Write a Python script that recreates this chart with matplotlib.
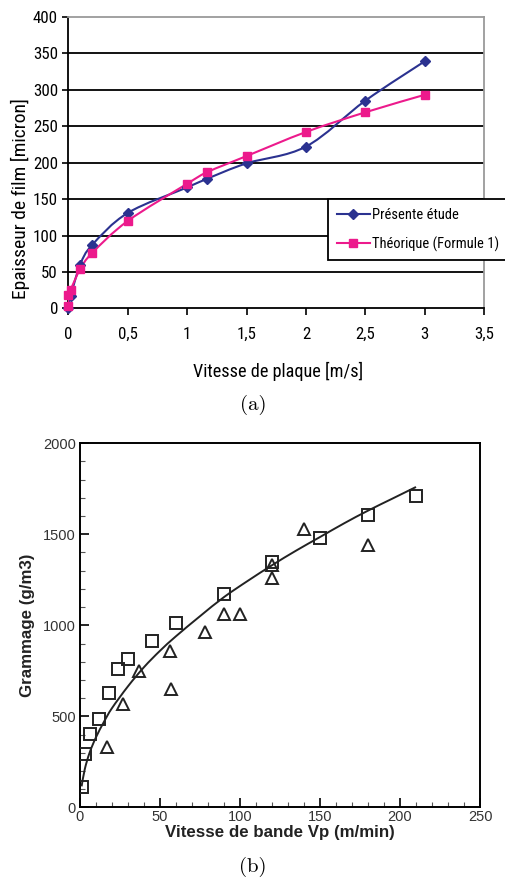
import numpy as np
import matplotlib
matplotlib.use("Agg")
import matplotlib.pyplot as plt
import matplotlib.font_manager as fm
from matplotlib.font_manager import FontProperties
from matplotlib.textpath import TextPath
from matplotlib.path import Path
from matplotlib.patches import PathPatch
from matplotlib.lines import Line2D
from matplotlib.ticker import MultipleLocator, FuncFormatter

# ---------------- data (a) ----------------
vitesse_etude = [0.0, 0.02, 0.1, 0.2, 0.5, 1.0, 1.17, 1.5, 2.0, 2.5, 3.0]
epaisseur_etude = [0, 17, 60, 87, 131, 166, 178, 199, 222, 285, 339]
vitesse_theo = [0.0, 0.0, 0.02, 0.1, 0.2, 0.5, 1.0, 1.17, 1.5, 2.0, 2.5, 3.0]
epaisseur_theo = [3, 19, 26, 54, 76, 120, 171, 187, 209, 242, 269, 293]
labels_a = ["Présente étude", "Théorique (Formule 1)"]
xticks_a = [0, 0.5, 1, 1.5, 2, 2.5, 3, 3.5]
yticks_a = [0, 50, 100, 150, 200, 250, 300, 350, 400]

# ---------------- data (b) ----------------
sq_x = [1, 3, 6, 12, 18, 24, 30, 45, 60, 90, 120, 150, 180, 210]
sq_y = [110, 293, 403, 487, 628, 758, 816, 915, 1014, 1172, 1346, 1478, 1608, 1710]
tri_x = [17, 27, 37, 56, 57, 78, 90, 100, 120, 120, 140, 180]
tri_y = [332, 568, 747, 861, 650, 962, 1063, 1063, 1262, 1330, 1531, 1440]
curve_x = [1, 3, 6, 10, 15, 20, 30, 40, 50, 60, 75, 90, 105, 120, 135, 150, 165, 180, 195, 210]
curve_y = [115, 210, 300, 385, 470, 545, 665, 770, 860, 940, 1050, 1155, 1245,
           1330, 1410, 1485, 1560, 1630, 1695, 1760]

BLUE = "#2b3290"
PINK = "#ec1a8c"
SANS = ["Liberation Sans", "DejaVu Sans"]


def pick_narrow():
    """Find a condensed sans font if one is installed, else Liberation Sans."""
    entries = fm.fontManager.ttflist
    for want in ["Liberation Sans Narrow", "Arial Narrow", "Roboto Condensed",
                 "Open Sans Condensed", "Noto Sans Condensed"]:
        for f in entries:
            if f.name == want and f.weight in (400, "normal", "regular") and f.style == "normal":
                return f.fname
    for f in entries:
        if (("Condensed" in f.fname or "Narrow" in f.fname)
                and "Bold" not in f.fname and "Oblique" not in f.fname
                and "Italic" not in f.fname and "Light" not in f.fname
                and "Mono" not in f.fname and "Serif" not in f.fname
                and f.style == "normal"):
            return f.fname
    return fm.findfont(FontProperties(family="Liberation Sans"))


NARROW_FILE = pick_narrow()


def nprop(text, target_px, max_size):
    """Font props of the narrow font, size fitted to the reference width."""
    fp = FontProperties(fname=NARROW_FILE, size=10)
    w = TextPath((0, 0), text, size=10, prop=fp).get_extents().width
    w_px = w * 100 / 72.0
    size = min(max_size, 10 * target_px / w_px)
    return FontProperties(fname=NARROW_FILE, size=size)


def smooth(ax, x, y, **kw):
    pts = np.column_stack([x, y]).astype(float)
    verts = [pts[0]]
    codes = [Path.MOVETO]
    n = len(pts)
    for i in range(n - 1):
        p0 = pts[i - 1] if i > 0 else pts[i]
        p1 = pts[i]
        p2 = pts[i + 1]
        p3 = pts[i + 2] if i + 2 < n else pts[i + 1]
        c1 = p1 + (p2 - p0) / 6.0
        c2 = p2 - (p3 - p1) / 6.0
        verts += [c1, c2, p2]
        codes += [Path.CURVE4] * 3
    patch = PathPatch(Path(verts, codes), fill=False, transform=ax.transData, **kw)
    ax.add_patch(patch)
    return patch


W, H = 505, 880
fig = plt.figure(figsize=(W / 100, H / 100), dpi=100)

# ================= panel (a) =================
ax1 = fig.add_axes([68.3 / W, 1 - 308.5 / H, 416 / W, 291.8 / H])
ax1.set_xlim(0, 3.5)
ax1.set_ylim(0, 400)
for v in yticks_a[1:-1]:
    ax1.axhline(v, color="black", lw=1.3, zorder=1)
ax1.spines["top"].set_color("#9a9a9a")
ax1.spines["right"].set_color("#9a9a9a")
for s in ax1.spines.values():
    s.set_linewidth(1.3)
ax1.set_xticks(xticks_a)
ax1.set_yticks(yticks_a)
ax1.xaxis.set_major_formatter(FuncFormatter(lambda v, p: ("%g" % v).replace(".", ",")))
ax1.tick_params(axis="both", direction="out", length=4, width=1.2, pad=3.5)
ax1.tick_params(axis="x", pad=8, length=5)
tick_fp = nprop("400", 23.5, 13)
for lab in ax1.get_xticklabels() + ax1.get_yticklabels():
    lab.set_fontproperties(tick_fp)

smooth(ax1, vitesse_etude, epaisseur_etude, edgecolor=BLUE, lw=1.5, zorder=3)
ax1.plot(vitesse_etude, epaisseur_etude, ls="none", marker="D", ms=5.5,
         color=BLUE, zorder=4, clip_on=False)
smooth(ax1, vitesse_theo, epaisseur_theo, edgecolor=PINK, lw=1.5, zorder=3)
ax1.plot(vitesse_theo, epaisseur_theo, ls="none", marker="s", ms=6,
         color=PINK, zorder=4, clip_on=False)

ax1.set_xlabel("Vitesse de plaque [m/s]",
               fontproperties=nprop("Vitesse de plaque [m/s]", 169, 14))
ax1.xaxis.set_label_coords((278 - 68.3) / 416, (308.5 - 362) / 291.8)
ax1.set_ylabel("Epaisseur de film [micron]",
               fontproperties=nprop("Epaisseur de film [micron]", 233, 14))
ax1.yaxis.set_label_coords((30 - 68.3) / 416, (308.5 - 198.5) / 291.8)

handles = [Line2D([], [], color=BLUE, lw=1.5, marker="D", ms=5.5),
           Line2D([], [], color=PINK, lw=1.5, marker="s", ms=6)]
leg_fp = nprop("Théorique (Formule 1)", 126, 13)
leg = fig.legend(handles, labels_a, loc="upper left",
                 bbox_to_anchor=(328 / W, 1 - 199 / H), bbox_transform=fig.transFigure,
                 prop=leg_fp, frameon=True, fancybox=False,
                 edgecolor="black", framealpha=1, handlelength=2.3, handletextpad=0.1,
                 borderpad=0.6, labelspacing=1.0, borderaxespad=0)
leg.get_frame().set_linewidth(1.3)

fig.text(253 / W, 1 - 405 / H, "(a)", family="cmr10", fontsize=15, ha="center", va="center")

# ================= panel (b) =================
ax2 = fig.add_axes([80 / W, 1 - 807.3 / H, 400 / W, 364 / H])
ax2.set_xlim(0, 250)
ax2.set_ylim(0, 2000)
for s in ax2.spines.values():
    s.set_linewidth(1.4)
ax2.xaxis.set_major_locator(MultipleLocator(50))
ax2.xaxis.set_minor_locator(MultipleLocator(10))
ax2.yaxis.set_major_locator(MultipleLocator(500))
ax2.yaxis.set_minor_locator(MultipleLocator(100))
ax2.tick_params(which="major", direction="in", length=6.5, width=1.2, labelsize=10.5,
                labelcolor="#333333")
ax2.tick_params(which="minor", direction="in", length=3.5, width=0.8, color="#555555")
ax2.tick_params(axis="x", which="major", pad=2)
ax2.tick_params(axis="y", which="major", pad=3)
for lab in ax2.get_xticklabels() + ax2.get_yticklabels():
    lab.set_family(SANS)

smooth(ax2, curve_x, curve_y, edgecolor="#222222", lw=1.4, zorder=3)
ax2.plot(sq_x, sq_y, ls="none", marker="s", ms=8.5, mfc="none", mec="#222222",
         mew=1.4, zorder=4)
ax2.plot(tri_x, tri_y, ls="none", marker="^", ms=9, mfc="none", mec="#222222",
         mew=1.4, zorder=4)

ax2.set_xlabel("Vitesse de bande Vp (m/min)", family=SANS, fontweight="bold",
               fontsize=12.2, labelpad=1, color="#222222")
ax2.set_ylabel("Grammage (g/m3)", family=SANS, fontweight="bold",
               fontsize=12.2, labelpad=6, color="#222222")

fig.text(253 / W, 1 - 867 / H, "(b)", family="cmr10", fontsize=15, ha="center", va="center")

fig.savefig("out.png", dpi=100)
